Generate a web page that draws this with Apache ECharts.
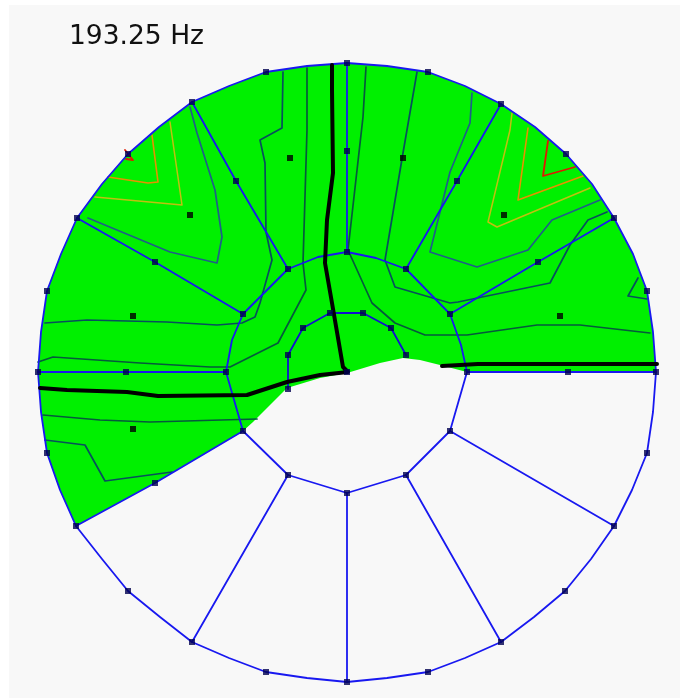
<!DOCTYPE html>
<html><head><meta charset="utf-8">
<style>html,body{margin:0;padding:0;background:#fff}#c{width:686px;height:698px;filter:blur(0.5px)}</style>
<script src="https://cdn.jsdelivr.net/npm/echarts@6/dist/echarts.min.js"></script>
</head><body><div id="c"></div>
<script>
const titleText = '193.25 Hz';
// Region with response above the display threshold
const greenRegion = [[76,526],[60,490],[47,453],[41,412],[38,372],[41,332],[47,291],[61,254],[77,218],[102,184],[128,154],[159,127],[192,102],[229,86],[266,72],[307,66],[347,63],[387,66],[428,72],[465,86],[501,104],[535,127],[566,154],[592,184],[614,218],[633,254],[647,291],[653,332],[656,372],[467,372],[440,365],[420,360],[403,358],[380,363],[357,370],[347,373],[320,378],[287,388],[270,405],[253,422],[243,431],[155,483]];
// Mesh lines
const outerRing = [[38,372],[41,332],[47,291],[61,254],[77,218],[102,184],[128,154],[159,127],[192,102],[229,86],[266,72],[307,66],[347,63],[387,66],[428,72],[465,86],[501,104],[535,127],[566,154],[592,184],[614,218],[633,254],[647,291],[653,332],[656,372],[653,412],[647,453],[632,490],[614,526],[591,559],[565,591],[534,617],[501,642],[465,658],[428,672],[387,678],[347,682],[307,678],[266,672],[229,658],[192,642],[160,617],[128,591],[102,559],[76,526],[60,490],[47,453],[41,412],[38,372]];
const middleRing = [[226,372],[232,340],[243,314],[288,269],[318,257],[347,252],[376,258],[406,269],[450,314],[461,345],[467,372],[450,431],[406,475],[347,493],[288,475],[243,431],[226,372]];
const innerRing = [[288,389],[288,355],[303,328],[330,313],[363,313],[391,328],[406,355]];
const meshSpokes = [
  [[38,372],[126,372],[226,372]],[[77,218],[155,262],[243,314]],[[192,102],[236,181],[288,269]],
  [[347,63],[347,151],[347,252]],[[501,104],[457,181],[406,269]],[[614,218],[538,262],[450,314]],
  [[656,372],[568,372],[467,372]],[[450,431],[614,526]],[[406,475],[501,642]],[[347,493],[347,682]],
  [[288,475],[192,642]],[[243,431],[155,483],[76,526]]
];
// Node markers
const meshNodes = [[38,372],[47,291],[77,218],[128,154],[192,102],[266,72],[347,63],[428,72],[501,104],[566,154],[614,218],[647,291],[656,372],[647,453],[614,526],[565,591],[501,642],[428,672],[347,682],[266,672],[192,642],[128,591],[76,526],[47,453],
  [126,372],[155,262],[236,181],[347,151],[457,181],[538,262],[568,372],[155,483],
  [226,372],[243,314],[288,269],[347,252],[406,269],[450,314],[467,372],[450,431],[406,475],[347,493],[288,475],[243,431],
  [288,389],[288,355],[303,328],[330,313],[363,313],[391,328],[406,355],[347,372]];
const cellCentres = [[133,316],[190,215],[290,158],[403,158],[504,215],[560,316],[133,429]];
// Contour lines, thick level
const thickLeft = [[40,388],[67,390],[127,392],[158,396],[247,395],[287,382],[320,375],[348,372],[343,367],[332,303],[325,263],[327,220],[333,173],[332,90],[332,65]];
const thickRight = [[442,366],[478,364],[657,364]];
// Contour lines, blue-green levels
const darkContours = [
  [[307,68],[307,130],[303,263],[306,290],[278,343],[230,367],[210,367],[140,363],[53,357],[38,362]],
  [[366,67],[363,117],[348,250],[372,303],[395,323],[425,335],[467,335],[537,325],[580,325],[650,333]],
  [[43,415],[100,420],[150,422],[257,419]]
];
const midContours = [
  [[283,72],[282,128],[260,140],[265,163],[266,232],[272,260],[260,303],[255,317],[242,323],[217,325],[167,322],[87,320],[45,323]],
  [[417,72],[403,153],[385,260],[395,287],[450,303],[458,302],[550,283],[570,245],[588,220],[607,212]],
  [[45,440],[85,445],[105,481],[172,472]],
  [[638,278],[628,296],[647,299]]
];
const blueContours = [
  [[190,107],[197,133],[215,190],[222,237],[217,263],[170,252],[88,218]],
  [[472,93],[470,123],[450,172],[430,252],[477,267],[528,250],[552,220],[600,200]]
];
const yellowContours = [[[170,122],[182,205],[95,197]],[[512,113],[510,130],[488,222],[497,227],[590,188]]];
const orangeContours = [[[152,135],[158,182],[148,183],[108,177]],[[528,128],[518,200],[583,176]]];
const redContours = [[[125,150],[133,160],[126,159]],[[548,141],[543,176],[575,167]]];

function line(data,color,width,z){
  return {type:'line',data,showSymbol:false,silent:true,animation:false,smooth:false,z:z,
    clip:false,lineStyle:{color,width,cap:'round',join:'round'}};
}
const series=[{
  type:'custom',silent:true,animation:false,z:1,data:greenRegion,
  renderItem(params,api){
    if(params.dataIndex!==0) return;
    return {type:'polygon',shape:{points:greenRegion.map(p=>api.coord(p))},style:{fill:'#00f000'}};
  }
}];
darkContours.forEach(d=>series.push(line(d,'#055a3c',1.7,3)));
midContours.forEach(d=>series.push(line(d,'#07505c',1.7,3)));
blueContours.forEach(d=>series.push(line(d,'#1f5f88',1.7,3)));
yellowContours.forEach(d=>series.push(line(d,'#c0c010',1.5,3)));
orangeContours.forEach(d=>series.push(line(d,'#e89000',1.6,3)));
redContours.forEach(d=>series.push(line(d,'#e01800',1.8,3)));
series.push(line(outerRing,'#1818f0',1.8,4),line(middleRing,'#1818f0',1.8,4),line(innerRing,'#1010d0',1.8,4));
meshSpokes.forEach(d=>series.push(line(d,'#1818f0',1.8,4)));
series.push(line(thickLeft,'#000',4,5),line(thickRight,'#000',4,5));
series.push({type:'scatter',data:meshNodes,symbol:'rect',symbolSize:6,silent:true,animation:false,z:6,clip:false,itemStyle:{color:'#000050'}});
series.push({type:'scatter',data:cellCentres,symbol:'rect',symbolSize:6,silent:true,animation:false,z:6,clip:false,itemStyle:{color:'#000'}});

const chart=echarts.init(document.getElementById('c'),null,{renderer:'canvas'});
chart.setOption({
  backgroundColor:'#fff',animation:false,
  title:{text:titleText,left:69,top:24,padding:0,textStyle:{fontFamily:'DejaVu Sans',fontSize:26.5,fontWeight:'normal',color:'#111'}},
  grid:{show:true,left:9,top:5,right:6,bottom:0,borderWidth:0,backgroundColor:'#f8f8f8'},
  xAxis:{type:'value',min:9,max:680,show:false},
  yAxis:{type:'value',min:5,max:698,inverse:true,show:false},
  tooltip:{show:false},legend:{show:false},
  series
});
</script></body></html>
